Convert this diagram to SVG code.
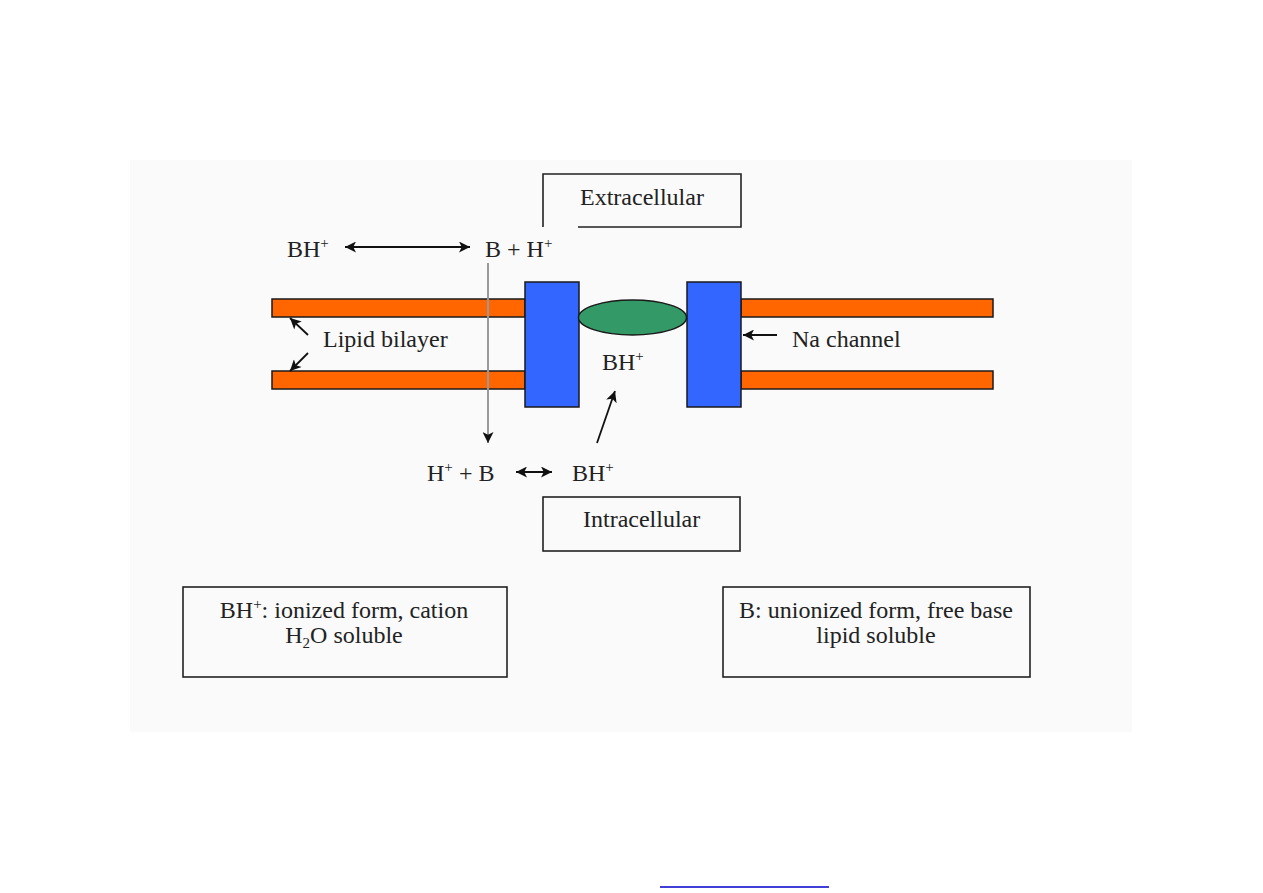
<svg xmlns="http://www.w3.org/2000/svg" width="1263" height="893" viewBox="0 0 1263 893">
<defs>
<style>
.t{font-family:"Liberation Serif","Times New Roman",serif;font-size:24px;fill:#222}
.sup{font-size:15px}
.box{fill:none;stroke:#222;stroke-width:1.6}
.lip{fill:#ff6600;stroke:#1a1a1a;stroke-width:1.5}
.chan{fill:#3366ff;stroke:#1a1a1a;stroke-width:1.5}
.arr{stroke:#111;stroke-width:1.8;fill:none}
</style>
<marker id="ah" viewBox="0 0 10 10" refX="10" refY="5" markerWidth="13" markerHeight="11" markerUnits="userSpaceOnUse" orient="auto-start-reverse">
<path d="M0,0 L10,5 L0,10 L2.5,5 z" fill="#111"/>
</marker>
</defs>
<rect x="0" y="0" width="1263" height="893" fill="#ffffff"/>
<rect id="panel" x="130" y="160" width="1002" height="572" fill="#fafafa"/>

<g id="membrane-left">
<rect class="lip" x="272" y="299" width="253" height="18"/>
<rect class="lip" x="272" y="371" width="253" height="18"/>
</g>
<g id="membrane-right">
<rect class="lip" x="741" y="299" width="252" height="18"/>
<rect class="lip" x="741" y="371" width="252" height="18"/>
</g>
<g id="channel-left"><rect class="chan" x="525" y="282" width="54" height="125"/></g>
<g id="channel-right"><rect class="chan" x="687" y="282" width="54" height="125"/></g>
<g id="gate"><ellipse cx="632.5" cy="317.5" rx="54" ry="17.5" fill="#339966" stroke="#1a1a1a" stroke-width="1.5"/></g>

<g id="extracellular">
<path class="box" d="M543,227 V174 H741 V227 H578"/>
<text class="t" x="580" y="205">Extracellular</text>
</g>
<g id="intracellular">
<rect class="box" x="543" y="497" width="197" height="54"/>
<text class="t" x="583" y="527">Intracellular</text>
</g>

<g id="bh-top"><text class="t" x="287" y="257">BH<tspan class="sup" dy="-9">+</tspan></text></g>
<g id="b-h-top"><text class="t" x="485" y="257">B + H<tspan class="sup" dy="-9">+</tspan></text></g>
<g id="lipid-label"><text class="t" x="323" y="347">Lipid bilayer</text></g>
<g id="na-label"><text class="t" x="792" y="347">Na channel</text></g>
<g id="bh-channel"><text class="t" x="602" y="370">BH<tspan class="sup" dy="-9">+</tspan></text></g>
<g id="h-b-bottom"><text class="t" x="427" y="481">H<tspan class="sup" dy="-9">+</tspan><tspan dy="9" x="459">+ B</tspan></text></g>
<g id="bh-bottom"><text class="t" x="572" y="481">BH<tspan class="sup" dy="-9">+</tspan></text></g>

<g id="legend-ionized">
<rect class="box" x="183" y="587" width="324" height="90"/>
<text class="t" x="344" y="618" text-anchor="middle">BH<tspan class="sup" dy="-9">+</tspan><tspan dy="9">: ionized form, cation</tspan></text>
<text class="t" x="344" y="643" text-anchor="middle">H<tspan class="sup" dy="5">2</tspan><tspan dy="-5">O soluble</tspan></text>
</g>
<g id="legend-unionized">
<rect class="box" x="723" y="587" width="307" height="90"/>
<text class="t" x="876" y="618" text-anchor="middle">B: unionized form, free base</text>
<text class="t" x="876" y="643" text-anchor="middle">lipid soluble</text>
</g>

<g id="connectors">
<line class="arr" x1="345" y1="247" x2="470" y2="247" marker-start="url(#ah)" marker-end="url(#ah)"/>
<line x1="488" y1="263" x2="488" y2="443" stroke="#999" stroke-width="2" marker-end="url(#ah)"/>
<line class="arr" x1="308" y1="335" x2="290" y2="318" marker-end="url(#ah)"/>
<line class="arr" x1="308" y1="353" x2="290" y2="371" marker-end="url(#ah)"/>
<line class="arr" x1="777" y1="335" x2="743" y2="335" marker-end="url(#ah)"/>
<line class="arr" x1="597" y1="443" x2="615" y2="391" marker-end="url(#ah)"/>
<line class="arr" x1="516" y1="472" x2="552" y2="472" marker-start="url(#ah)" marker-end="url(#ah)"/>
</g>

<line id="footnote-rule" x1="660" y1="887" x2="829" y2="887" stroke="#0000cc" stroke-width="1.5"/>
</svg>
